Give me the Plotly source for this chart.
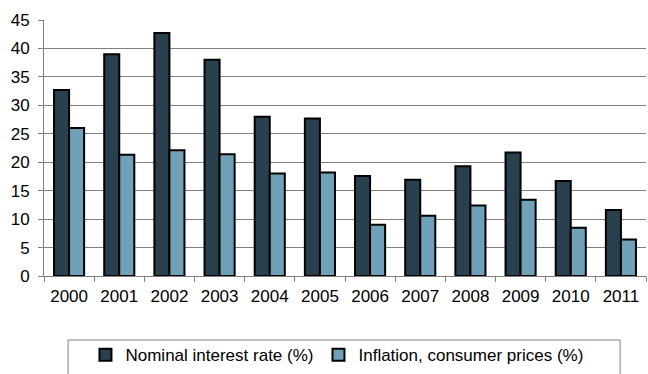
import plotly.graph_objects as go

years = ["2000", "2001", "2002", "2003", "2004", "2005", "2006", "2007", "2008", "2009", "2010", "2011"]
nominal = [32.7, 39.0, 42.7, 38.0, 28.0, 27.7, 17.6, 16.9, 19.3, 21.7, 16.7, 11.6]
inflation = [26.0, 21.3, 22.1, 21.4, 18.0, 18.2, 9.0, 10.6, 12.4, 13.4, 8.5, 6.4]
y_ticks = [0, 5, 10, 15, 20, 25, 30, 35, 40, 45]

FONT = "Liberation Sans, Arial, sans-serif"

fig = go.Figure()
fig.add_trace(go.Bar(x=years, y=nominal, name="Nominal interest rate (%)",
                     marker=dict(color="#29414E", line=dict(color="#000000", width=2))))
fig.add_trace(go.Bar(x=years, y=inflation, name="Inflation, consumer prices (%)",
                     marker=dict(color="#6FA2B9", line=dict(color="#000000", width=2))))

fig.update_layout(
    width=648, height=374,
    margin=dict(l=44, r=2, t=20, b=98, autoexpand=False),
    paper_bgcolor="white", plot_bgcolor="white",
    barmode="group", bargap=0.4, bargroupgap=0,
    font=dict(family=FONT, size=17, color="#000000"),
    showlegend=True,
    legend=dict(orientation="h", x=0.52, xanchor="center", xref="container",
                y=0.05, yanchor="middle", yref="container",
                font=dict(size=17), bgcolor="rgba(0,0,0,0)", borderwidth=0,
                itemwidth=30, traceorder="normal"),
    shapes=[dict(type="rect", xref="paper", yref="paper", x0=0.04, x1=0.957,
                 y0=-0.25, y1=-0.45, line=dict(color="#808080", width=1),
                 fillcolor="rgba(0,0,0,0)", layer="below")],
)
fig.update_xaxes(type="category", showline=True, linecolor="#808080", linewidth=1,
                 ticks="outside", tickson="boundaries", ticklen=5, tickcolor="#808080",
                 showgrid=False, tickfont=dict(size=17), ticklabelstandoff=5)
fig.update_yaxes(range=[0, 45], tickvals=y_ticks, showline=True, linecolor="#808080",
                 linewidth=1, ticks="outside", ticklen=5, tickcolor="#808080",
                 showgrid=True, gridcolor="#808080", gridwidth=1, zeroline=False,
                 tickfont=dict(size=17), ticklabelstandoff=5)

fig.write_html("out.html")
